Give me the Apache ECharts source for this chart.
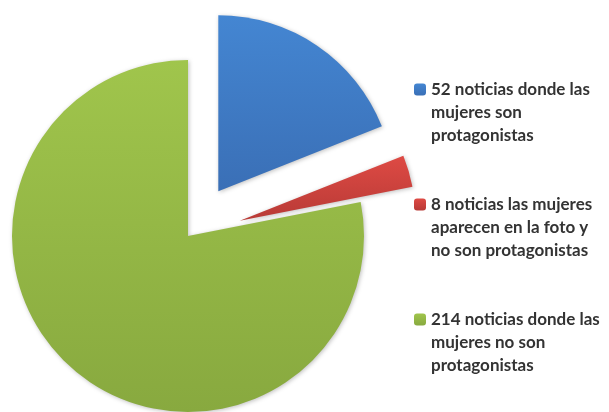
<!DOCTYPE html>
<html>
<head>
<meta charset="utf-8">
<script src="https://cdn.jsdelivr.net/npm/echarts@6/dist/echarts.min.js"></script>
<style>
  html, body { margin: 0; padding: 0; background: #fff; }
  #main { width: 609px; height: 412px; }
</style>
</head>
<body>
<div id="main"></div>
<script>
  // datos de la gráfica
  const categorias = [
    '52 noticias donde las\nmujeres son\nprotagonistas',
    '8 noticias las mujeres\naparecen en la foto y\nno son protagonistas',
    '214 noticias donde las\nmujeres no son\nprotagonistas'
  ];
  const valores = [52, 8, 214];
  const destacados = [true, true, false];

  const colores = [
    ['#4486d2', '#3a6fb6'],
    ['#de4a44', '#b83a36'],
    ['#a0c54c', '#88a93f']
  ];

  const grad = (c) => new echarts.graphic.LinearGradient(0, 0, 0, 1, [
    { offset: 0, color: c[0] },
    { offset: 1, color: c[1] }
  ]);

  const option = {
    backgroundColor: '#fff',
    animation: false,
    legend: {
      orient: 'vertical',
      left: 409,
      top: 27,
      itemWidth: 12,
      itemHeight: 12,
      itemGap: 0,
      selectedMode: false,
      data: categorias,
      // dos líneas vacías arriba para que el icono quede junto a la primera línea
      formatter: (name) => '\n\n' + name,
      textStyle: {
        fontFamily: 'Lato',
        fontWeight: 'bold',
        fontSize: 17,
        lineHeight: 23,
        color: '#333'
      }
    },
    series: [{
      type: 'pie',
      center: [188, 236],
      radius: 176,
      startAngle: 90,
      clockwise: true,
      selectedMode: 'multiple',
      selectedOffset: 54,
      label: { show: false },
      labelLine: { show: false },
      emphasis: { disabled: true },
      itemStyle: {
        shadowBlur: 4,
        shadowColor: 'rgba(0,0,0,0.25)',
        shadowOffsetX: 1,
        shadowOffsetY: 1
      },
      data: valores.map((v, i) => ({
        name: categorias[i],
        value: v,
        selected: destacados[i],
        itemStyle: { color: grad(colores[i]) }
      }))
    }]
  };

  echarts.init(document.getElementById('main')).setOption(option);
</script>
</body>
</html>
